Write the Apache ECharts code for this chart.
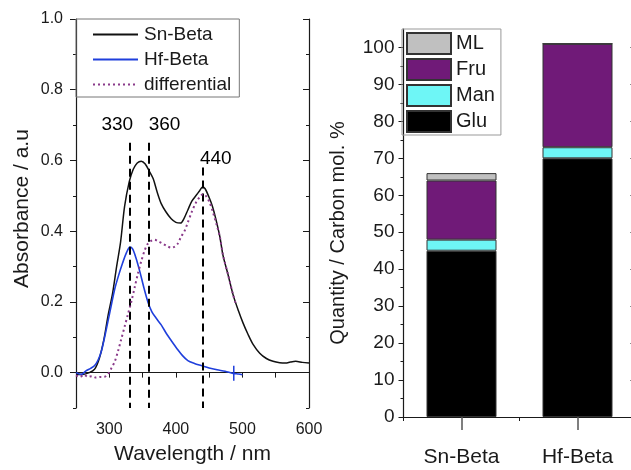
<!DOCTYPE html>
<html>
<head>
<meta charset="utf-8">
<script src="https://cdn.jsdelivr.net/npm/echarts@6/dist/echarts.min.js"></script>
<style>
  html, body { margin: 0; padding: 0; background: #fff; }
  #chart { width: 631px; height: 470px; }
</style>
</head>
<body>
<div id="chart"></div>
<script>
// UV-vis spectra: [wavelength nm, absorbance]
const snBeta = [
  [250,-0.005],[260,-0.005],[270,0.000],[278,0.010],[285,0.040],[292,0.095],[298,0.160],
  [305,0.225],[311,0.300],[317,0.370],[323,0.470],[330,0.540],[336,0.575],[342,0.593],
  [348,0.598],[354,0.590],[360,0.570],[366,0.548],[372,0.510],[378,0.478],[385,0.455],
  [393,0.435],[400,0.425],[407,0.423],[412,0.435],[418,0.460],[424,0.485],[430,0.500],
  [436,0.515],[440,0.525],[444,0.520],[450,0.495],[455,0.470],[460,0.435],[466,0.385],
  [471,0.330],[478,0.280],[486,0.220],[494,0.175],[501,0.140],[508,0.110],[516,0.080],
  [526,0.055],[536,0.040],[546,0.032],[556,0.028],[565,0.027],[572,0.030],[580,0.032],
  [590,0.029],[600,0.027]
];
const hfBeta = [
  [250,0.000],[258,-0.005],[265,0.005],[272,0.012],[278,0.020],[283,0.035],[288,0.060],
  [293,0.100],[298,0.145],[303,0.190],[308,0.235],[314,0.275],[320,0.310],[326,0.340],
  [331,0.355],[335,0.350],[340,0.325],[346,0.285],[352,0.240],[358,0.200],[364,0.172],
  [370,0.155],[378,0.135],[386,0.110],[394,0.088],[402,0.067],[410,0.048],[418,0.034],
  [428,0.026],[438,0.020],[450,0.013],[462,0.008],[474,0.004],[486,-0.002],[494,-0.004],
  [500,-0.006]
];
const differential = [
  [250,-0.008],[256,-0.012],[262,-0.006],[268,-0.012],[274,-0.010],[280,-0.014],[286,-0.012],
  [292,-0.012],[298,-0.005],[303,0.012],[308,0.030],[313,0.060],[318,0.095],[323,0.130],
  [328,0.165],[333,0.200],[338,0.240],[343,0.280],[348,0.315],[353,0.345],[358,0.365],
  [364,0.374],[368,0.376],[373,0.372],[380,0.365],[387,0.358],[393,0.353],[398,0.356],
  [403,0.365],[408,0.385],[413,0.400],[418,0.425],[424,0.455],[430,0.480],[436,0.497],
  [441,0.505],[446,0.498],[451,0.480],[456,0.452],[461,0.420],[466,0.385],[471,0.330],
  [478,0.280],[486,0.220],[490,0.195]
];

// Marked band positions (nm), top of each dashed guide, and their captions
const peakWavelengths = [330, 360, 440];
const peakLineTops = [0.65, 0.65, 0.58];
const peakCaptions = [[312, 0.70, '330'], [383, 0.70, '360'], [460, 0.605, '440']];

// Product distribution (carbon mol. %)
const catalysts = ['Sn-Beta', 'Hf-Beta'];
const glu = [45, 70];
const man = [3, 3];
const fru = [16, 28];
const ml  = [2, 0];

// Tick values
const absMajor = [0, 0.2, 0.4, 0.6, 0.8, 1.0];
const absMinor = [-0.1, 0.1, 0.3, 0.5, 0.7, 0.9];
const qtyMajor = [0, 10, 20, 30, 40, 50, 60, 70, 80, 90, 100];
const qtyMinor = [5, 15, 25, 35, 45, 55, 65, 75, 85, 95];

const FONT = 'Arial, "Liberation Sans", sans-serif';
const INK = '#1a1a1a';
const axisLine = { show: true, lineStyle: { color: INK, width: 1.2 } };

const chart = echarts.init(document.getElementById('chart'));

function tickAxis(base, extra) {
  return Object.assign({
    type: 'value', splitLine: { show: false }, axisLine: axisLine,
    axisLabel: { show: false }
  }, base, extra);
}

const option = {
  animation: false,
  textStyle: { fontFamily: FONT, color: INK },
  grid: [
    { left: 76, top: 19, width: 233, height: 389, outerBoundsMode: 'none' },
    { left: 403.5, top: 29, width: 232, height: 388, outerBoundsMode: 'none' }
  ],
  legend: [
    {
      data: ['Sn-Beta', 'Hf-Beta', 'differential'],
      orient: 'vertical', left: 76, top: 19,
      itemWidth: 45, itemHeight: 14, itemGap: 4,
      itemStyle: { opacity: 0 },
      padding: [5, 8, 2, 16],
      borderColor: '#777', borderWidth: 1,
      textStyle: { fontSize: 19, color: INK, fontFamily: FONT, lineHeight: 21, padding: [0, 0, 0, 1] }
    },
    {
      data: ['ML', 'Fru', 'Man', 'Glu'],
      orient: 'vertical', left: 402, top: 29,
      icon: 'rect',
      itemWidth: 44, itemHeight: 21, itemGap: 3,
      padding: [3, 6, 2, 4],
      borderColor: '#999', borderWidth: 1,
      textStyle: { fontSize: 20, color: INK, fontFamily: FONT, lineHeight: 20 }
    }
  ],
  xAxis: [
    {
      gridIndex: 0, type: 'value', min: 250, max: 600, interval: 50, position: 'bottom',
      axisLine: axisLine,
      axisTick: { show: true, length: 5, lineStyle: { color: INK } },
      axisLabel: { fontSize: 16, color: INK, margin: 14, formatter: v => (v % 100 === 0 ? String(v) : '') },
      splitLine: { show: false },
      name: 'Wavelength / nm', nameLocation: 'middle', nameGap: 36,
      nameTextStyle: { fontSize: 21, color: INK, fontFamily: FONT }
    },
    tickAxis({ gridIndex: 0, min: 250, max: 600, interval: 50, position: 'top' },
      { axisTick: { show: true, inside: true, length: 4, lineStyle: { color: INK } } }),
    {
      gridIndex: 1, type: 'category', data: catalysts, position: 'bottom',
      axisLine: axisLine,
      axisTick: { show: true, alignWithLabel: true, length: 13, lineStyle: { color: '#555', width: 1.5 } },
      axisLabel: { fontSize: 21, color: INK, margin: 30 }
    },
    {
      gridIndex: 1, type: 'category', data: catalysts, position: 'top',
      axisLine: axisLine,
      axisTick: { show: true, inside: true, length: 4, lineStyle: { color: INK } },
      axisLabel: { show: false }
    },
    {
      gridIndex: 1, type: 'category', data: catalysts, position: 'bottom',
      axisLine: { show: false },
      axisTick: { show: true, length: 4, lineStyle: { color: INK } },
      axisLabel: { show: false }
    }
  ],
  yAxis: [
    {
      gridIndex: 0, type: 'value', min: -0.1, max: 1.0, position: 'left',
      axisLine: axisLine,
      axisTick: { show: true, length: 6, customValues: absMajor, lineStyle: { color: INK } },
      axisLabel: { fontSize: 16, color: INK, margin: 13, customValues: absMajor, formatter: v => v.toFixed(1) },
      splitLine: { show: false },
      name: 'Absorbance / a.u', nameLocation: 'middle', nameGap: 43,
      nameTextStyle: { fontSize: 21, color: INK, fontFamily: FONT, padding: [0, 0, 0, 10] }
    },
    tickAxis({ gridIndex: 0, min: -0.1, max: 1.0, position: 'left' },
      { axisLine: { show: false }, axisTick: { show: true, length: 3, customValues: absMinor, lineStyle: { color: INK } } }),
    tickAxis({ gridIndex: 0, min: -0.1, max: 1.0, position: 'right' },
      { axisTick: { show: true, inside: true, length: 6, customValues: absMajor, lineStyle: { color: INK } } }),
    tickAxis({ gridIndex: 0, min: -0.1, max: 1.0, position: 'right' },
      { axisLine: { show: false }, axisTick: { show: true, inside: true, length: 3, customValues: absMinor, lineStyle: { color: INK } } }),
    {
      gridIndex: 1, type: 'value', min: 0, max: 105, position: 'left',
      axisLine: axisLine,
      axisTick: { show: true, length: 5, customValues: qtyMajor, lineStyle: { color: INK } },
      axisLabel: { fontSize: 19, color: INK, margin: 9, customValues: qtyMajor },
      splitLine: { show: false },
      name: 'Quantity / Carbon mol. %', nameLocation: 'middle', nameGap: 55,
      nameTextStyle: { fontSize: 20, color: INK, fontFamily: FONT, padding: [0, 20, 0, 0] }
    },
    tickAxis({ gridIndex: 1, min: 0, max: 105, position: 'left' },
      { axisLine: { show: false }, axisTick: { show: true, length: 3, customValues: qtyMinor, lineStyle: { color: INK } } }),
    tickAxis({ gridIndex: 1, min: 0, max: 105, position: 'right' },
      { axisTick: { show: true, inside: true, length: 5, customValues: qtyMajor, lineStyle: { color: INK } } })
  ],
  series: [
    {
      name: 'Sn-Beta', type: 'line', xAxisIndex: 0, yAxisIndex: 0, data: snBeta,
      symbol: 'none', smooth: 0.3, lineStyle: { color: '#111', width: 1.5 }, itemStyle: { color: '#111' },
      z: 3,
      markLine: {
        silent: true, symbol: ['none', 'none'], label: { show: false },
        lineStyle: { color: '#000', width: 2, type: [8, 5] },
        data: peakWavelengths.map((w, i) => [{ coord: [w, peakLineTops[i]] }, { coord: [w, -0.1] }])
      }
    },
    {
      name: 'Hf-Beta', type: 'line', xAxisIndex: 0, yAxisIndex: 0, data: hfBeta,
      symbol: 'none', smooth: 0.3, lineStyle: { color: '#1f3fdc', width: 1.6 }, itemStyle: { color: '#1f3fdc' },
      z: 4,
      markPoint: {
        silent: true, label: { show: false },
        data: [{ coord: [487, -0.002], symbol: 'rect', symbolSize: [1.5, 15], itemStyle: { color: '#1f3fdc' } }]
      }
    },
    {
      name: 'differential', type: 'line', xAxisIndex: 0, yAxisIndex: 0, data: differential,
      symbol: 'none', smooth: 0.3, lineStyle: { color: '#8a3a8a', width: 2, type: [2, 3] }, itemStyle: { color: '#8a3a8a' },
      z: 5
    },
    {
      name: 'captions', type: 'scatter', xAxisIndex: 0, yAxisIndex: 0, data: peakCaptions,
      symbolSize: 0, silent: true, itemStyle: { opacity: 1 },
      label: { show: true, position: 'inside', formatter: p => p.value[2], fontSize: 19, color: '#000', fontFamily: FONT }
    },
    { name: 'Glu', type: 'bar', xAxisIndex: 2, yAxisIndex: 4, stack: 'qty', data: glu, barWidth: 70,
      itemStyle: { color: '#000000', borderColor: '#333', borderWidth: 1 } },
    { name: 'Man', type: 'bar', xAxisIndex: 2, yAxisIndex: 4, stack: 'qty', data: man, barWidth: 70,
      itemStyle: { color: '#6ef6f6', borderColor: '#333', borderWidth: 1 } },
    { name: 'Fru', type: 'bar', xAxisIndex: 2, yAxisIndex: 4, stack: 'qty', data: fru, barWidth: 70,
      itemStyle: { color: '#701a78', borderColor: '#333', borderWidth: 1 } },
    { name: 'ML', type: 'bar', xAxisIndex: 2, yAxisIndex: 4, stack: 'qty', data: ml, barWidth: 70,
      itemStyle: { color: '#c0c0c0', borderColor: '#333', borderWidth: 1 } }
  ]
};

chart.setOption(option);
</script>
</body>
</html>
